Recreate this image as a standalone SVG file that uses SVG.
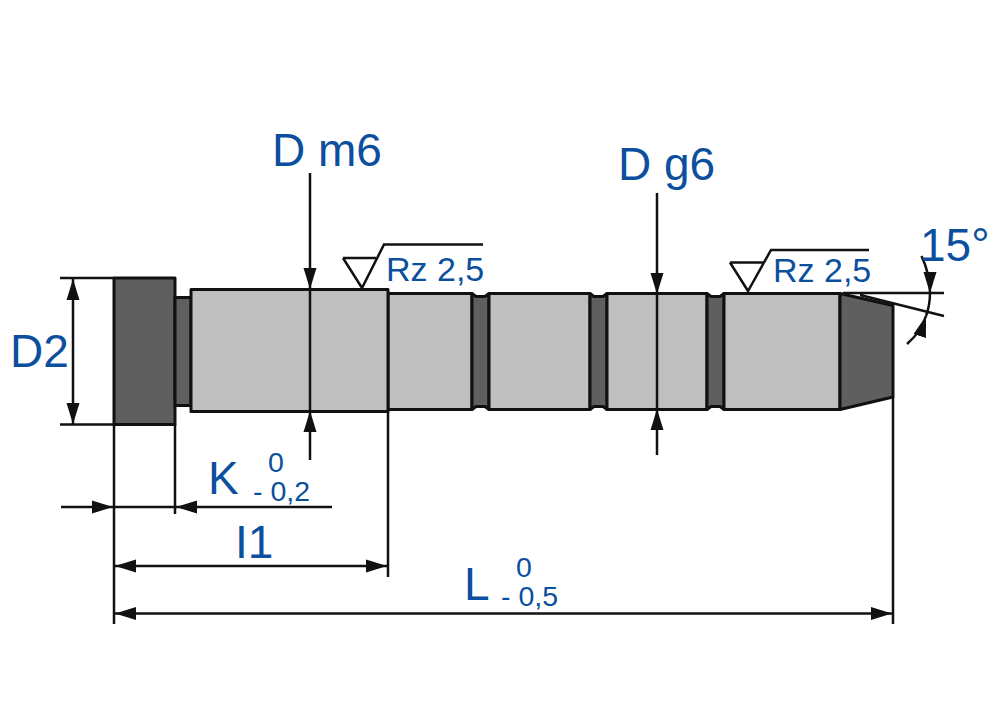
<svg xmlns="http://www.w3.org/2000/svg" width="1000" height="714" viewBox="0 0 1000 714">
<style>
.o{stroke:#111;stroke-width:3;stroke-linejoin:round}
.lt{fill:#bfbfbf}
.dk{fill:#5f5f5f}
.l{fill:none;stroke:#111;stroke-width:2.500}
.t{font-family:"Liberation Sans",Arial,sans-serif;fill:#0b4f9e}
.b{font-size:46px}
.r{font-size:34px}
.s{font-size:28.500px}
</style>
<defs>
<marker id="a" markerUnits="userSpaceOnUse" markerWidth="22" markerHeight="14" refX="21" refY="6.500" orient="auto-start-reverse" viewBox="0 0 22 13"><path d="M0 0L21 6.500L0 13Z" fill="#111"/></marker>
</defs>
<rect width="1000" height="714" fill="#fff"/>
<g id="pin">
<rect id="head" class="o dk" x="114" y="278" width="61" height="146.500"/>
<rect id="neck" class="o dk" x="175" y="297.500" width="16" height="108"/>
<rect id="sec1" class="o lt" x="388" y="293.500" width="84" height="116"/>
<path id="g1" class="o dk" d="M472 293.500L476 296.500H485L489 293.500V409.500L485 406.500H476L472 409.500Z"/>
<rect id="sec2" class="o lt" x="489" y="293.500" width="101" height="116"/>
<path id="g2" class="o dk" d="M590 293.500L594 296.500H603L607 293.500V409.500L603 406.500H594L590 409.500Z"/>
<rect id="sec3" class="o lt" x="607" y="293.500" width="100" height="116"/>
<path id="g3" class="o dk" d="M707 293.500L711 296.500H720L724 293.500V409.500L720 406.500H711L707 409.500Z"/>
<rect id="sec4" class="o lt" x="724" y="293.500" width="116" height="116"/>
<path id="tip" class="o dk" d="M840 293.500L893 305.500V397L840 409.500Z"/>
<rect id="body" class="o lt" x="191" y="289.500" width="197" height="122"/>
</g>
<g id="connectors">
<path class="l" d="M60 278H114M60 424.500H114"/>
<path class="l" d="M73 279V424" marker-start="url(#a)" marker-end="url(#a)"/>
<path class="l" d="M310 173V289" marker-end="url(#a)"/>
<path class="l" d="M310 289V411"/>
<path class="l" d="M310 460V411" marker-end="url(#a)"/>
<path class="l" d="M657 193V294" marker-end="url(#a)"/>
<path class="l" d="M657 294V409"/>
<path class="l" d="M657 455V409" marker-end="url(#a)"/>
<path class="l" d="M114 424V624M175 424V514M388 411V577M893 397V624"/>
<path class="l" d="M61 507H113" marker-end="url(#a)"/>
<path class="l" d="M114 507H175"/>
<path class="l" d="M332 507H176" marker-end="url(#a)"/>
<path class="l" d="M115 566H387" marker-start="url(#a)" marker-end="url(#a)"/>
<path class="l" d="M115 613.500H892" marker-start="url(#a)" marker-end="url(#a)"/>
<path class="l" d="M843 293H944M860 295L944 316"/>
<path class="l" d="M921.500 256Q930 274 930 293" marker-end="url(#a)"/>
<path class="l" d="M930 293Q930 305 926 316"/>
<path class="l" d="M907 344Q921 332 926 316" marker-end="url(#a)"/>
<path class="l" d="M343 258H376M343 258L362 288L384 244.500H483"/>
<path class="l" d="M730 262.500H764M730 262.500L748 291L771 250H869"/>
</g>
<g id="labels">
<text class="t b" x="272" y="166">D m6</text>
<text class="t b" x="618" y="180">D g6</text>
<text class="t b" x="10" y="367">D2</text>
<text class="t r" x="386" y="281">Rz 2,5</text>
<text class="t r" x="773" y="282">Rz 2,5</text>
<text class="t b" x="920" y="261">15°</text>
<text class="t b" x="208" y="494">K</text>
<text class="t s" x="268" y="472">0</text>
<text class="t s" x="253" y="501">- 0,2</text>
<text class="t b" x="235" y="558">I1</text>
<text class="t b" x="464" y="600">L</text>
<text class="t s" x="516" y="577">0</text>
<text class="t s" x="501" y="606">- 0,5</text>
</g>
</svg>
